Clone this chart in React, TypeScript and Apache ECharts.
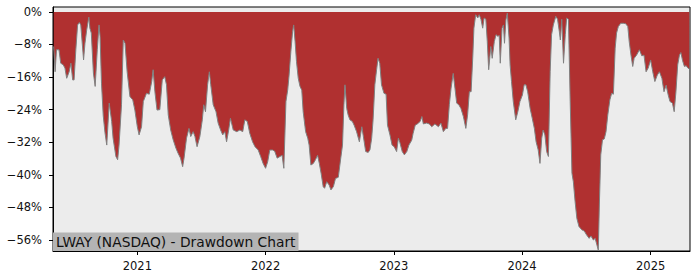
import React, { useEffect, useRef } from "react";
import * as echarts from "echarts";

const dates: string[] = [
  "2020-05-08","2020-05-12","2020-05-16","2020-05-23","2020-05-28","2020-06-04","2020-06-09","2020-06-14","2020-06-21","2020-06-26",
  "2020-07-01","2020-07-05","2020-07-10","2020-07-15","2020-07-20","2020-07-24","2020-08-01","2020-08-05","2020-08-10","2020-08-16",
  "2020-08-19","2020-08-23","2020-08-29","2020-09-03","2020-09-09","2020-09-14","2020-09-17","2020-09-21","2020-09-26","2020-10-01",
  "2020-10-06","2020-10-13","2020-10-20","2020-10-24","2020-11-01","2020-11-06","2020-11-10","2020-11-17","2020-11-22","2020-11-27",
  "2020-12-03","2020-12-11","2020-12-19","2020-12-25","2021-01-01","2021-01-06","2021-01-13","2021-01-18","2021-01-27","2021-02-04",
  "2021-02-11","2021-02-15","2021-02-20","2021-02-26","2021-03-06","2021-03-13","2021-03-20","2021-03-25","2021-03-30","2021-04-06",
  "2021-04-13","2021-04-21","2021-04-27","2021-05-04","2021-05-10","2021-05-14","2021-05-21","2021-05-28","2021-06-02","2021-06-09",
  "2021-06-14","2021-06-20","2021-06-28","2021-07-05","2021-07-09","2021-07-14","2021-07-20","2021-07-25","2021-07-29","2021-08-05",
  "2021-08-13","2021-08-19","2021-08-26","2021-09-01","2021-09-07","2021-09-12","2021-09-18","2021-09-23","2021-10-01","2021-10-11",
  "2021-10-20","2021-10-28","2021-11-03","2021-11-10","2021-11-17","2021-11-25","2021-12-02","2021-12-11","2021-12-18","2021-12-25",
  "2022-01-01","2022-01-07","2022-01-13","2022-01-21","2022-01-27","2022-02-03","2022-02-11","2022-02-17","2022-02-22","2022-02-28",
  "2022-03-05","2022-03-09","2022-03-14","2022-03-19","2022-03-22","2022-03-26","2022-03-30","2022-04-04","2022-04-09","2022-04-14",
  "2022-04-18","2022-04-25","2022-05-01","2022-05-05","2022-05-10","2022-05-17","2022-05-23","2022-05-29","2022-06-03","2022-06-08",
  "2022-06-14","2022-06-18","2022-06-24","2022-07-01","2022-07-06","2022-07-13","2022-07-19","2022-07-27","2022-08-03","2022-08-08",
  "2022-08-12","2022-08-15","2022-08-20","2022-08-24","2022-08-29","2022-09-05","2022-09-10","2022-09-17","2022-09-25","2022-10-02",
  "2022-10-06","2022-10-13","2022-10-20","2022-10-25","2022-10-30","2022-11-03","2022-11-08","2022-11-13","2022-11-17","2022-11-22",
  "2022-11-27","2022-12-04","2022-12-10","2022-12-14","2022-12-21","2022-12-27","2023-01-02","2023-01-09","2023-01-14","2023-01-18",
  "2023-01-25","2023-01-31","2023-02-07","2023-02-13","2023-02-21","2023-02-25","2023-03-03","2023-03-09","2023-03-17","2023-03-22",
  "2023-03-26","2023-04-04","2023-04-12","2023-04-19","2023-04-28","2023-05-08","2023-05-15","2023-05-22","2023-05-29","2023-06-03",
  "2023-06-08","2023-06-13","2023-06-19","2023-06-24","2023-06-29","2023-07-05","2023-07-11","2023-07-18","2023-07-25","2023-07-30",
  "2023-08-04","2023-08-09","2023-08-14","2023-08-17","2023-08-22","2023-08-28","2023-09-01","2023-09-06","2023-09-11","2023-09-15",
  "2023-09-20","2023-09-24","2023-09-28","2023-10-04","2023-10-08","2023-10-14","2023-10-19","2023-10-24","2023-10-28","2023-10-31",
  "2023-11-05","2023-11-09","2023-11-12","2023-11-16","2023-11-20","2023-11-25","2023-11-28","2023-12-02","2023-12-07","2023-12-14",
  "2023-12-20","2023-12-26","2024-01-02","2024-01-07","2024-01-12","2024-01-17","2024-01-24","2024-01-30","2024-02-05","2024-02-10",
  "2024-02-16","2024-02-21","2024-02-26","2024-03-01","2024-03-06","2024-03-11","2024-03-16","2024-03-21","2024-03-25","2024-03-30",
  "2024-04-06","2024-04-11","2024-04-16","2024-04-19","2024-04-23","2024-04-28","2024-05-03","2024-05-07","2024-05-12","2024-05-17",
  "2024-05-22","2024-05-26","2024-05-31","2024-06-05","2024-06-11","2024-06-19","2024-06-26","2024-07-03","2024-07-10","2024-07-15",
  "2024-07-22","2024-07-27","2024-08-01","2024-08-05","2024-08-08","2024-08-12","2024-08-17","2024-08-22","2024-08-27","2024-09-01",
  "2024-09-07","2024-09-12","2024-09-17","2024-09-22","2024-09-26","2024-10-01","2024-10-08","2024-10-15","2024-10-22","2024-10-28",
  "2024-11-01","2024-11-06","2024-11-11","2024-11-15","2024-11-22","2024-11-30","2024-12-07","2024-12-13","2024-12-19","2024-12-25",
  "2025-01-01","2025-01-07","2025-01-13","2025-01-20","2025-01-26","2025-02-02","2025-02-08","2025-02-14","2025-02-20","2025-02-25",
  "2025-03-04","2025-03-09","2025-03-14","2025-03-19","2025-03-24","2025-03-28","2025-04-02","2025-04-07","2025-04-12","2025-04-17",
  "2025-04-21"
];

const drawdown: number[] = [
  -8.5,-14.7,-9.3,-9.3,-12.6,-13.0,-13.8,-16.3,-14.7,-12.6,
  -16.7,-16.7,-9.3,-3.2,-2.6,-3.2,-11.8,-7.7,-4.4,-1.3,
  -4.0,-5.2,-15.0,-18.3,-9.3,-3.2,-6.1,-17.5,-25.5,-29.7,
  -32.7,-22.4,-26.9,-31.0,-35.5,-36.3,-32.7,-22.8,-6.9,-7.7,
  -14.7,-20.8,-21.6,-24.1,-28.2,-30.2,-28.2,-22.0,-20.0,-20.2,
  -17.1,-14.2,-19.6,-24.1,-24.0,-16.7,-15.9,-17.9,-25.3,-29.0,
  -31.4,-33.5,-34.7,-35.9,-38.0,-35.9,-31.0,-28.6,-30.6,-29.4,
  -30.6,-33.1,-30.6,-26.5,-22.8,-24.5,-17.9,-14.7,-17.9,-22.8,
  -24.5,-27.3,-29.0,-30.2,-29.4,-31.9,-29.0,-26.1,-29.0,-29.4,
  -29.0,-29.4,-26.5,-26.9,-29.8,-31.9,-33.1,-33.9,-35.5,-37.2,
  -38.4,-36.8,-33.9,-33.9,-34.2,-35.9,-35.5,-35.2,-38.4,-22.0,
  -19.2,-15.5,-9.7,-4.8,-3.2,-7.3,-12.2,-16.3,-18.3,-19.2,
  -24.5,-29.4,-31.0,-32.7,-37.6,-37.2,-36.3,-35.2,-37.2,-39.6,
  -42.9,-43.3,-41.7,-42.5,-43.7,-42.9,-40.9,-40.6,-35.9,-32.7,
  -22.8,-17.9,-23.7,-25.3,-26.5,-26.9,-27.8,-29.4,-31.9,-28.2,
  -30.4,-34.3,-34.5,-33.9,-31.0,-26.5,-17.9,-14.2,-11.4,-12.6,
  -17.9,-20.0,-20.2,-27.8,-30.2,-32.7,-33.1,-34.3,-31.0,-32.0,
  -34.3,-35.1,-34.3,-32.7,-31.5,-29.8,-27.8,-27.5,-26.9,-25.7,
  -27.5,-27.3,-27.5,-28.2,-27.5,-28.2,-27.3,-29.4,-28.6,-28.6,
  -22.8,-18.7,-15.1,-18.7,-22.4,-22.8,-23.7,-25.7,-28.6,-25.3,
  -19.6,-19.6,-10.6,-4.0,-0.7,-1.5,-0.7,-1.8,-4.0,-1.5,
  -1.8,-7.3,-14.2,-8.5,-11.4,-7.3,-5.6,-6.0,-5.8,-12.6,
  -4.0,-3.2,-7.7,-2.0,-0.3,-6.4,-13.0,-17.1,-22.0,-26.5,
  -24.5,-22.0,-20.4,-17.9,-17.9,-19.6,-23.7,-26.1,-28.6,-31.9,
  -33.9,-37.2,-31.0,-29.0,-30.2,-34.3,-35.5,-14.7,-5.6,-3.2,
  -1.1,-1.8,-4.8,-6.9,-1.8,-12.6,-5.6,-1.5,-1.8,-22.0,
  -39.6,-41.7,-46.6,-50.7,-52.7,-53.5,-53.8,-54.8,-55.6,-55.0,
  -56.0,-55.6,-57.2,-58.5,-47.4,-35.1,-31.4,-31.2,-29.4,-25.3,
  -21.6,-20.0,-20.2,-8.9,-5.2,-3.6,-2.8,-2.8,-2.9,-3.6,
  -7.3,-10.6,-13.4,-11.4,-10.6,-9.3,-10.8,-10.6,-14.7,-13.8,
  -11.8,-14.7,-17.1,-15.5,-14.7,-16.3,-19.6,-18.0,-20.4,-22.0,
  -22.4,-24.5,-19.6,-13.0,-10.6,-10.0,-12.0,-13.4,-13.2,-13.8,
  -14.0
];

const yTicks: number[] = [0, -8, -16, -24, -32, -40, -48, -56];
const xTicks: string[] = ["2021-01-01", "2022-01-01", "2023-01-01", "2024-01-01", "2025-01-01"];
const xRange: string[] = ["2020-05-06", "2025-04-23"];
const yRange: number[] = [-58.7, 1.2];
const chartTitle = "LWAY (NASDAQ) - Drawdown Chart";

const FONT = "DejaVu Sans";
const ts = (d: string) => new Date(d + "T00:00:00Z").getTime();

export default function App() {
  const ref = useRef<HTMLDivElement>(null);
  useEffect(() => {
    if (!ref.current) return;
    const chart = echarts.init(ref.current, undefined, { renderer: "svg" });
    const data = dates.map((d, i) => [ts(d), drawdown[i]]);
    const xTickTs = xTicks.map(ts);
    chart.setOption({
      animation: false,
      backgroundColor: "#ffffff",
      title: {
        text: chartTitle,
        left: 53,
        bottom: 29,
        backgroundColor: "#b4b4b4",
        padding: [2, 3, 2, 3],
        textStyle: {
          fontFamily: FONT,
          fontSize: 13.8,
          fontWeight: "normal",
          color: "#111111",
          lineHeight: 14.5,
        },
        z: 10,
      },
      grid: {
        left: 53,
        right: 10,
        top: 7,
        bottom: 29,
        show: true,
        backgroundColor: "#ececec",
        borderColor: "#000000",
        borderWidth: 1,
      },
      xAxis: {
        type: "value",
        min: ts(xRange[0]),
        max: ts(xRange[1]),
        axisLine: { show: true, onZero: false, lineStyle: { color: "#000", width: 1 } },
        axisTick: { show: true, length: 4, lineStyle: { color: "#000" }, customValues: xTickTs },
        axisLabel: {
          customValues: xTickTs,
          formatter: (v: number) => String(new Date(v).getUTCFullYear()),
          fontFamily: FONT,
          fontSize: 11.5,
          color: "#111",
          margin: 9,
        },
        splitLine: { show: false },
      },
      yAxis: {
        type: "value",
        min: yRange[0],
        max: yRange[1],
        axisLine: { show: true, onZero: false, lineStyle: { color: "#000", width: 1 } },
        axisTick: { show: true, length: 4, lineStyle: { color: "#000" }, customValues: yTicks },
        axisLabel: {
          customValues: yTicks,
          formatter: (v: number) => (v === 0 ? "0%" : "\u2212" + Math.abs(v) + "%"),
          fontFamily: FONT,
          fontSize: 11.5,
          color: "#111",
          margin: 11,
        },
        splitLine: { show: false },
      },
      series: [
        {
          type: "line",
          data,
          showSymbol: false,
          symbol: "none",
          lineStyle: { color: "#808080", width: 1 },
          areaStyle: { color: "#b03030", opacity: 1 },
          z: 2,
        },
      ],
    });
    return () => chart.dispose();
  }, []);
  return (
    <div
      ref={ref}
      style={{ position: "fixed", left: 0, top: 0, width: 700, height: 280 }}
    />
  );
}
